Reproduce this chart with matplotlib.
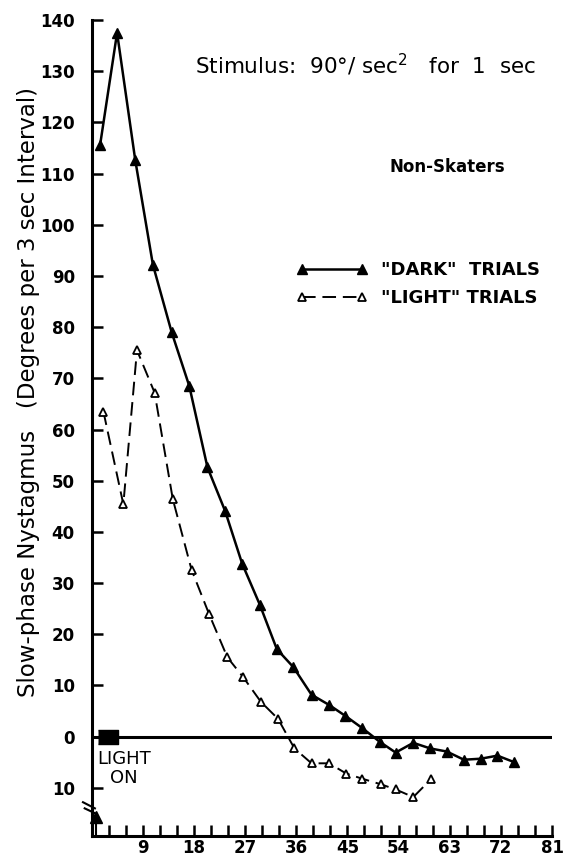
import matplotlib
matplotlib.use("Agg")
import matplotlib.pyplot as plt

# time (sec) of each 3 sec interval, as plotted
dark_x = [1.5, 4.5, 7.7, 10.8, 14.1, 17.2, 20.4, 23.5, 26.5, 29.6, 32.6, 35.5, 38.7,
          41.8, 44.6, 47.6, 50.7, 53.5, 56.6, 59.6, 62.5, 65.5, 68.5, 71.4, 74.4]
dark_y = [115.5, 137.5, 112.6, 92.2, 79.0, 68.5, 52.6, 44.1, 33.8, 25.8, 17.1, 13.6, 8.2,
          6.2, 4.1, 1.7, -1.0, -3.1, -1.2, -2.3, -2.9, -4.5, -4.3, -3.7, -5.0]

light_x = [2.1, 5.6, 8.0, 11.1, 14.3, 17.6, 20.7, 23.9, 26.7, 29.8, 32.8, 35.7, 38.7,
           41.8, 44.8, 47.6, 50.9, 53.5, 56.6, 59.8]
light_y = [63.5, 45.4, 75.5, 67.2, 46.4, 32.6, 23.9, 15.5, 11.6, 6.8, 3.5, -2.3, -5.2,
           -5.2, -7.2, -8.2, -9.3, -10.3, -11.8, -8.2]

x_ticks = list(range(3, 82, 3))
x_labels = [str(t) if t % 9 == 0 else "" for t in x_ticks]
y_ticks = list(range(-10, 141, 10))
y_labels = [str(abs(t)) for t in y_ticks]

light_on_x = 2.9

plt.rcParams['font.family'] = ['DejaVu Sans']

fig = plt.figure(figsize=(5.65, 8.59), dpi=100)
ax = fig.add_axes([91.5 / 565, 23 / 859, 460.5 / 565, 816 / 859])

# zero line
ax.plot([0, 81], [0, 0], color="black", lw=2.2, zorder=1)

ax.plot(dark_x, dark_y, color="black", lw=1.8, marker="^", ms=7,
        label='"DARK"  TRIALS', zorder=3)
ax.plot(light_x, light_y, color="black", lw=1.4, ls=(0, (7, 3.5)), marker="^", ms=5.5,
        mfc="white", mec="black", mew=1.3, label='"LIGHT" TRIALS', zorder=3)

# light on marker
ax.plot([light_on_x], [0], marker=[(-1.4, -1), (1.4, -1), (1.4, 1), (-1.4, 1)],
        ms=14, color="black", zorder=4)
ax.text(1.0, -2.6, "LIGHT\nON", ha="left", va="top", fontsize=13,
        multialignment="center", linespacing=1.05)

# stimulus onset arrow below the axis break
ax.plot([0.8, 0.8], [-19.4, -15.8], color="black", lw=1.5, clip_on=False)
ax.plot([0.8], [-15.6], marker="^", ms=8, color="black", clip_on=False)
# axis break marks
ax.plot([-1.5, 0.6], [-12.8, -14.0], color="black", lw=1.5, clip_on=False)
ax.plot([-1.2, 0.9], [-14.0, -15.1], color="black", lw=1.5, clip_on=False)

ax.set_xlim(0, 81)
ax.set_ylim(-19.4, 140)
ax.spines["top"].set_visible(False)
ax.spines["right"].set_visible(False)
ax.spines["left"].set_linewidth(2.2)
ax.spines["bottom"].set_linewidth(2.2)

ax.set_xticks(x_ticks)
ax.set_xticklabels(x_labels)
ax.set_yticks(y_ticks)
ax.set_yticklabels(y_labels)
ax.tick_params(axis="both", direction="in", length=8, width=1.8,
               labelsize=12)
ax.tick_params(axis="y", pad=12)
ax.tick_params(axis="x", pad=2)
for lab in ax.get_xticklabels() + ax.get_yticklabels():
    lab.set_fontweight("bold")

ax.set_ylabel("Slow-phase Nystagmus   (Degrees per 3 sec Interval)", fontsize=16.5)
ax.yaxis.set_label_coords(-0.112, 0.544)

ax.text(18.2, 131.3, "Stimulus:  90°/ sec$^2$   for  1  sec", fontsize=15.5, va="center")
ax.text(52.5, 111.3, "Non-Skaters", fontsize=12, fontweight="bold", va="center")

ax.legend(loc="upper left", bbox_to_anchor=(297 / 565, 1 - 261 / 859),
          bbox_transform=fig.transFigure, frameon=False, numpoints=2,
          handlelength=3.9, handletextpad=0.75, labelspacing=0.55,
          borderpad=0, borderaxespad=0,
          prop={"size": 13, "weight": "bold"})

fig.savefig("out.png", dpi=100)
